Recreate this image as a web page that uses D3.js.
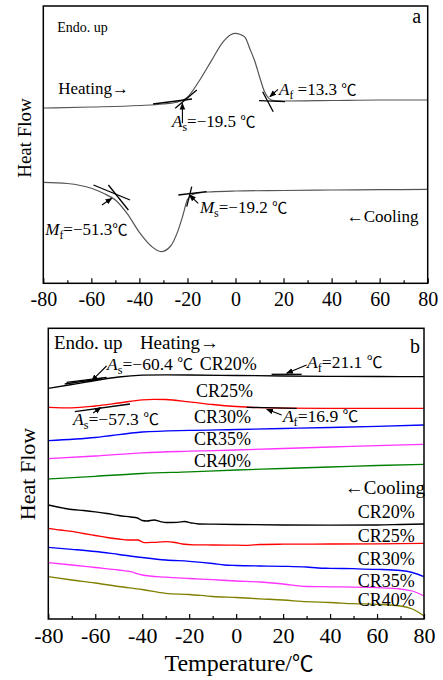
<!DOCTYPE html>
<html>
<head>
<meta charset="utf-8">
<script src="https://cdn.jsdelivr.net/npm/d3@7"></script>
<style>
  body { margin: 0; background: #fff; }
  svg { display: block; }
  text { font-family: "Liberation Serif", "Times New Roman", serif; fill: #000; }
  .cjk { font-family: "Noto Sans CJK JP", "Liberation Serif", serif; font-size: 90%; }
</style>
</head>
<body>
<div id="chart"></div>
<script>
// ---- data: [temperature (°C), heat flow (a.u.)] ----
// panel a
const heatA = [[-80,17.53],[-60,17.63],[-40,17.78],[-30,17.93],[-25,18.08],[-20,18.62],[-15,20.28],[-10,22.27],[-5,24.19],[-2,24.86],[0,25.0],[2,24.88],[4,24.6],[6,23.44],[8,22.23],[10,20.66],[12,19.2],[14,18.47],[16,18.27],[20,18.23],[40,18.28],[60,18.33],[80,18.33]];
const coolA = [[-80,10.1],[-70,9.98],[-60,9.5],[-55,9.0],[-50,8.33],[-45,6.94],[-40,5.1],[-35,3.71],[-31,3.16],[-27,3.73],[-24,5.22],[-22,6.71],[-20,8.37],[-18,8.86],[-15,9.05],[-10,9.15],[0,9.23],[20,9.28],[40,9.33],[60,9.36],[80,9.4]];

// panel b, heating
const heatB20 = [[-80,23.07],[-70,23.45],[-60,23.85],[-50,24.2],[-40,24.38],[-30,24.42],[-20,24.4],[0,24.35],[20,24.3],[40,24.27],[60,24.25],[80,24.23]];
const heatB25 = [[-80,21.17],[-70,21.12],[-60,21.3],[-50,21.6],[-40,21.92],[-35,21.97],[-30,21.95],[-20,21.72],[-10,21.45],[0,21.25],[10,21.13],[20,21.08],[40,21.06],[80,21.06]];
const heatB30 = [[-80,17.83],[-60,18.15],[-40,18.7],[-20,18.87],[0,18.95],[20,19.05],[40,19.15],[60,19.27],[80,19.4]];
const heatB35 = [[-80,16.03],[-60,16.3],[-40,16.62],[-20,16.78],[0,16.9],[20,17.05],[40,17.2],[60,17.33],[80,17.47]];
const heatB40 = [[-80,14.0],[-60,14.27],[-40,14.55],[-20,14.72],[0,14.9],[20,15.05],[40,15.2],[60,15.35],[80,15.47]];
// panel b, cooling
const coolB20 = [[-80,11.4],[-75,11.15],[-70,10.95],[-65,10.85],[-60,10.72],[-55,10.55],[-50,10.35],[-45,10.2],[-42,10.1],[-40,9.85],[-38,9.8],[-35,9.9],[-32,9.72],[-30,9.65],[-25,9.67],[-22,9.75],[-19,9.6],[-16,9.5],[-10,9.48],[0,9.45],[20,9.4],[40,9.38],[60,9.4],[70,9.45],[80,9.5]];
const coolB25 = [[-80,9.07],[-75,8.9],[-70,8.77],[-65,8.55],[-60,8.35],[-55,8.15],[-50,8.0],[-46,7.9],[-42,7.9],[-39,7.63],[-35,7.67],[-30,7.73],[-26,7.65],[-23,7.5],[-18,7.42],[-10,7.4],[0,7.38],[5,7.37],[10,7.45],[20,7.48],[40,7.5],[60,7.52],[80,7.57]];
const coolB30 = [[-80,7.17],[-70,6.97],[-60,6.75],[-50,6.45],[-40,6.15],[-30,5.9],[-20,5.77],[-10,5.55],[-5,5.4],[0,5.35],[10,5.3],[20,5.27],[30,5.2],[35,5.1],[40,5.07],[50,5.03],[60,4.97],[70,4.85],[75,4.65],[80,4.23]];
const coolB35 = [[-80,5.63],[-70,5.4],[-60,5.15],[-50,4.9],[-45,4.73],[-40,4.4],[-30,4.18],[-20,4.05],[-10,3.93],[0,3.8],[10,3.7],[20,3.5],[30,3.25],[40,3.22],[60,3.13],[70,3.0],[75,2.8],[80,2.3]];
const coolB40 = [[-80,4.23],[-70,3.9],[-60,3.6],[-50,3.25],[-40,2.95],[-30,2.57],[-20,2.45],[-10,2.25],[0,2.15],[10,2.02],[20,1.9],[30,1.73],[40,1.65],[50,1.53],[60,1.47],[70,1.3],[75,1.0],[80,0.3]];

const majorTicks = [-80, -60, -40, -20, 0, 20, 40, 60, 80];
const minorTicks = [-70, -50, -30, -10, 10, 30, 50, 70];

// annotation tangents [[t,v],[t,v]] and arrows [tail, head]
const tangentsA = [
  [[-34.3,17.93],[-18.1,18.43]], [[-25.1,17.5],[-16.1,19.33]],
  [[9.8,18.26],[20.6,18.16]], [[11.3,19.16],[15.7,17.16]],
  [[-59.1,9.83],[-43.9,8.33]], [[-52.9,9.83],[-44.6,7.33]],
  [[-23.8,8.83],[-12,9.16]], [[-20.3,7.66],[-18.2,9.66]]
];
const arrowsA = [
  [[-22.1,16.0],[-22.1,18.0]], [[17.7,19.4],[14.3,18.66]],
  [[-55.6,7.83],[-51.5,8.5]], [[-15.5,8.0],[-19.2,8.83]]
];
const tangentsB = [
  [[-72.2,23.67],[-55.2,24.17]], [[-73,23.5],[-57,24.05]],
  [[15.1,24.47],[27.9,24.47]],
  [[-68.7,20.73],[-45.2,21.5]],
  [[4.5,21.17],[25.8,21.07]]
];
const arrowsB = [
  [[-55.2,25.3],[-61.5,23.83]], [[30,25.4],[21.5,24.57]],
  [[-60.9,20.6],[-57.6,21.15]], [[19.4,20.4],[13,20.97]]
];

// text labels: [t, v, parts, size, anchor]  part = [text, style]  style: "" | "i" | "sub"
const labelsA = [
  [-74.2, 25.1, [["Endo. up",""]], 14],
  [-73.8, 18.93, [["Heating→",""]], 17],
  [-26.4, 15.63, [["A","i"],["s","sub"],["=−19.5 ℃",""]], 17],
  [18.1, 18.83, [["A","i"],["f","sub"],[" =13.3 ℃",""]], 17],
  [-79.2, 4.83, [["M","i"],["f","sub"],["=−51.3℃",""]], 17],
  [-14.8, 7.03, [["M","i"],["s","sub"],["=−19.2 ℃",""]], 17],
  [46.3, 6.13, [["←Cooling",""]], 17],
  [73.6, 26.0, [["a",""]], 20]
];
const labelsB = [
  [-77.6, 27.0, [["Endo. up",""]], 19],
  [-41, 27.0, [["Heating→",""]], 19],
  [74, 26.6, [["b",""]], 20],
  [-55, 24.9, [["A","i"],["s","sub"],["=−60.4 ℃",""]], 17.5],
  [30.2, 25.1, [["A","i"],["f","sub"],["=21.1 ℃",""]], 17.5],
  [-69.5, 19.4, [["A","i"],["s","sub"],["=−57.3 ℃",""]], 17.5],
  [19.9, 19.7, [["A","i"],["f","sub"],["=16.9 ℃",""]], 17.5],
  [46.3, 12.5, [["←Cooling",""]], 19]
];
const crNames = ["CR20%", "CR25%", "CR30%", "CR35%", "CR40%"];
const crHeatPos = [[-15.5,24.95],[-17.1,22.2],[-18,19.6],[-18,17.4],[-18,15.2]];
const crCoolPos = [[76.1,10.1],[76.1,7.7],[76.1,5.4],[76.1,3.25],[76.1,1.3]];
const seriesColors = ["#000000", "#ff0000", "#0000ff", "#ff33ff", "#008000"];
const coolColors = ["#000000", "#ff0000", "#0000ff", "#ff33ff", "#808000"];

const W = 443, H = 680;
const svg = d3.select("#chart").append("svg").attr("width", W).attr("height", H);

const defs = svg.append("defs");
defs.append("marker")
  .attr("id", "head").attr("viewBox", "0 0 10 10")
  .attr("refX", 9).attr("refY", 5)
  .attr("markerWidth", 7).attr("markerHeight", 7)
  .attr("markerUnits", "userSpaceOnUse")
  .attr("orient", "auto")
  .append("path").attr("d", "M0,1 L10,5 L0,9 Z").attr("fill", "#000");

// put the ℃ sign in its own tspan so it gets a font that has it
function addText(sel, str) {
  str.split(/(℃)/).filter(s => s.length).forEach(s => {
    const t = sel.append("tspan").text(s);
    if (s === "℃") t.attr("class", "cjk");
  });
}

function drawPanel(p) {
  const x = d3.scaleLinear().domain([-80, 80]).range([p.left, p.right]);
  const y = d3.scaleLinear().domain(p.yDomain).range([p.bottom, p.top]);
  const g = svg.append("g");

  // ticks (inward)
  g.append("g")
    .attr("transform", "translate(0," + p.bottom + ")")
    .call(d3.axisBottom(x).tickValues(majorTicks).tickSize(-5).tickPadding(p.tickPad).tickFormat(d => String(d)))
    .call(a => a.select(".domain").remove())
    .call(a => a.selectAll("text").style("font-family", "Liberation Serif").style("font-size", p.tickFont + "px").attr("fill", "#000"))
    .call(a => a.selectAll("line").attr("stroke", "#000").attr("stroke-width", 1.2));
  g.append("g")
    .attr("transform", "translate(0," + p.bottom + ")")
    .call(d3.axisBottom(x).tickValues(minorTicks).tickSize(-3).tickFormat(""))
    .call(a => a.select(".domain").remove())
    .call(a => a.selectAll("line").attr("stroke", "#000").attr("stroke-width", 1.2));

  const line = d3.line().x(d => x(d[0])).y(d => y(d[1])).curve(d3.curveMonotoneX);
  p.curves.forEach(c => {
    g.append("path").attr("d", line(c.data))
      .attr("fill", "none").attr("stroke", c.color).attr("stroke-width", c.width);
  });

  const straight = d3.line().x(d => x(d[0])).y(d => y(d[1]));
  p.tangents.forEach(t => {
    g.append("path").attr("d", straight(t)).attr("stroke", "#000").attr("stroke-width", 1.3).attr("fill", "none");
  });
  p.arrows.forEach(a => {
    g.append("path").attr("d", straight(a)).attr("stroke", "#000").attr("stroke-width", 1.1)
      .attr("fill", "none").attr("marker-end", "url(#head)");
  });

  // frame
  g.append("rect")
    .attr("x", p.left).attr("y", p.top)
    .attr("width", p.right - p.left).attr("height", p.bottom - p.top)
    .attr("fill", "none").attr("stroke", "#000").attr("stroke-width", 1.5);

  p.labels.forEach(l => {
    const t = g.append("text").attr("x", x(l[0])).attr("y", y(l[1]))
      .style("font-size", l[3] + "px").attr("text-anchor", l[4] || "start");
    let shifted = false;
    l[2].forEach(part => {
      if (part[1] === "i") {
        t.append("tspan").text(part[0]).style("font-style", "italic");
      } else if (part[1] === "sub") {
        t.append("tspan").text(part[0]).style("font-size", "70%").attr("dy", 4);
        shifted = true;
      } else {
        const s = t.append("tspan");
        if (shifted) { s.attr("dy", -4); shifted = false; }
        addText(s, part[0]);
      }
    });
  });

  // y title
  g.append("text")
    .attr("transform", "translate(" + p.yTitleX + "," + p.yTitleY + ") rotate(-90)")
    .attr("text-anchor", "middle").style("font-size", p.yTitleFont + "px")
    .text("Heat Flow");
  return { x, y, g };
}

drawPanel({
  left: 43.3, right: 427.7, top: 6, bottom: 283.3, yDomain: [0, 27.73],
  tickPad: 9, tickFont: 20,
  curves: [{ data: heatA, color: "#555", width: 1.2 }, { data: coolA, color: "#555", width: 1.2 }],
  tangents: tangentsA, arrows: arrowsA, labels: labelsA,
  yTitleX: 31, yTitleY: 138, yTitleFont: 19
});

const heatB = [heatB20, heatB25, heatB30, heatB35, heatB40];
const coolB = [coolB20, coolB25, coolB30, coolB35, coolB40];
const labB = labelsB.slice();
crNames.forEach((n, i) => {
  labB.push([crHeatPos[i][0], crHeatPos[i][1], [[n, ""]], 18]);
  labB.push([crCoolPos[i][0], crCoolPos[i][1], [[n, ""]], 18, "end"]);
});
drawPanel({
  left: 48.3, right: 424, top: 328.3, bottom: 619, yDomain: [0, 29.07],
  tickPad: 8, tickFont: 22,
  curves: heatB.map((d, i) => ({ data: d, color: seriesColors[i], width: 1.3 }))
    .concat(coolB.map((d, i) => ({ data: d, color: coolColors[i], width: 1.3 }))),
  tangents: tangentsB, arrows: arrowsB, labels: labB,
  yTitleX: 35, yTitleY: 474, yTitleFont: 22
});

const title = svg.append("text")
  .attr("x", 239).attr("y", 671).attr("text-anchor", "middle")
  .style("font-size", "24px");
addText(title, "Temperature/℃");
</script>
</body>
</html>
